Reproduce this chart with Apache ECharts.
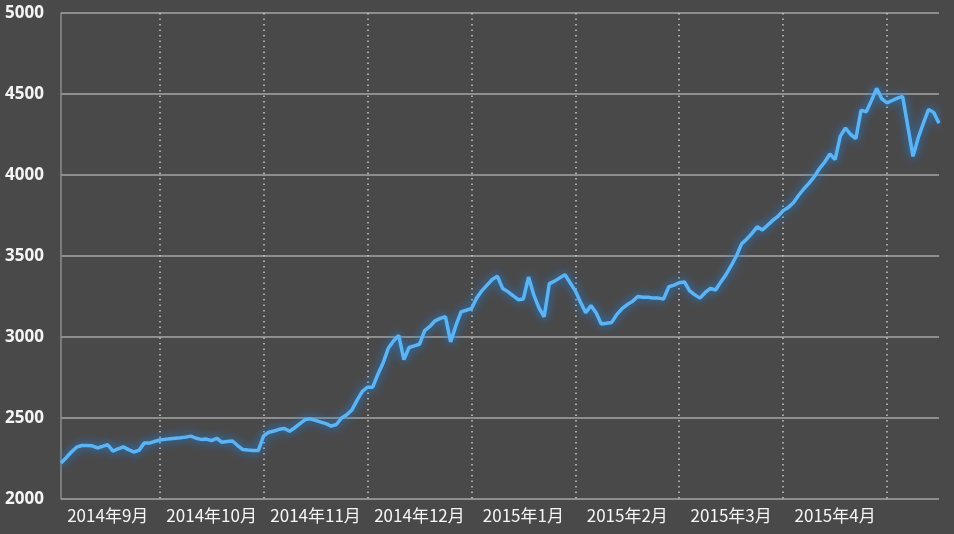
<!DOCTYPE html>
<html>
<head>
<meta charset="utf-8">
<script src="https://cdn.jsdelivr.net/npm/echarts@6/dist/echarts.min.js"></script>
<style>
html,body{margin:0;padding:0;background:#4a494a;}
#chart{width:954px;height:534px;}
</style>
</head>
<body>
<div id="chart"></div>
<script>
// Tick labels (one per month, shown mid-month)
var monthLabels = ['2014年9月','2014年10月','2014年11月','2014年12月','2015年1月','2015年2月','2015年3月','2015年4月'];
// point indices where the month labels sit, and month-boundary indices (dotted lines)
var labelIdx = [9, 29, 49, 69, 89, 109, 129, 149];
var boundaryIdx = [19, 39, 59, 79, 99, 119, 139, 159];
// y-axis ticks
var yTicks = [2000, 2500, 3000, 3500, 4000, 4500, 5000];

// Index values, month by month
var sep = [2222,2255,2290,2320,2330,2330,2328,2315,2325,2335,2295,2310,2322,2305,2290,2300,2345,2345,2355,2364];
var oct = [2368,2372,2375,2378,2382,2388,2375,2368,2370,2360,2375,2350,2355,2358,2330,2305,2302,2300,2300,2390];
var nov = [2412,2420,2430,2435,2418,2440,2465,2490,2495,2485,2475,2465,2450,2460,2500,2520,2550,2610,2665,2690];
var dec = [2690,2770,2840,2930,2975,3010,2860,2935,2945,2955,3040,3065,3100,3115,3125,2970,3070,3155,3165,3175];
var jan = [3240,3285,3320,3355,3375,3300,3280,3255,3230,3235,3370,3260,3180,3125,3330,3345,3365,3385,3335,3285];
var feb = [3215,3150,3195,3150,3080,3085,3090,3140,3175,3200,3220,3250,3245,3245,3240,3240,3235,3310,3320,3335];
var mar = [3340,3285,3260,3240,3275,3300,3290,3340,3385,3440,3500,3575,3605,3640,3680,3660,3690,3720,3745,3780];
var apr = [3800,3830,3875,3915,3950,3990,4040,4080,4130,4095,4240,4290,4250,4225,4400,4390,4460,4535,4470,4445];
var may = [4460,4475,4485,4300,4115,4230,4320,4405,4385,4320];

var values = [].concat(sep, oct, nov, dec, jan, feb, mar, apr, may);
var xCats = values.map(function (_, i) { return String(i); });

var chart = echarts.init(document.getElementById('chart'), null, {renderer: 'canvas'});
chart.setOption({
  animation: false,
  backgroundColor: '#4a494a',
  grid: {left: 61, right: 15, top: 13, bottom: 35},
  xAxis: {
    type: 'category',
    data: xCats,
    boundaryGap: false,
    axisLine: {show: false},
    axisTick: {show: false},
    axisLabel: {
      interval: function (i) { return labelIdx.indexOf(i) >= 0; },
      formatter: function (v) {
        var k = labelIdx.indexOf(Number(v));
        return k >= 0 ? monthLabels[k] : '';
      },
      color: '#f6f6f6',
      fontSize: 17,
      fontFamily: '"Noto Sans CJK SC", sans-serif',
      margin: 8
    },
    splitLine: {
      show: true,
      interval: function (i) { return boundaryIdx.indexOf(i) >= 0; },
      lineStyle: {color: '#c8c8c8', type: [1.5, 4], width: 1.5}
    }
  },
  yAxis: {
    type: 'value',
    min: yTicks[0],
    max: yTicks[yTicks.length - 1],
    interval: 500,
    axisLine: {show: true, lineStyle: {color: '#8c8c8c', width: 1.5}},
    axisTick: {show: false},
    axisLabel: {
      formatter: function (v) { return String(v); },
      color: '#f4f4f4',
      fontSize: 17,
      fontWeight: 'bold',
      fontFamily: '"Open Sans", sans-serif',
      margin: 17
    },
    splitLine: {show: true, lineStyle: {color: '#8e8e8e', width: 2}}
  },
  series: [{
    type: 'line',
    data: values,
    symbol: 'none',
    smooth: false,
    lineStyle: {
      color: '#5cb4f4',
      width: 3.5,
      shadowColor: 'rgba(25,135,235,1)',
      shadowBlur: 10
    }
  }]
});
</script>
</body>
</html>
